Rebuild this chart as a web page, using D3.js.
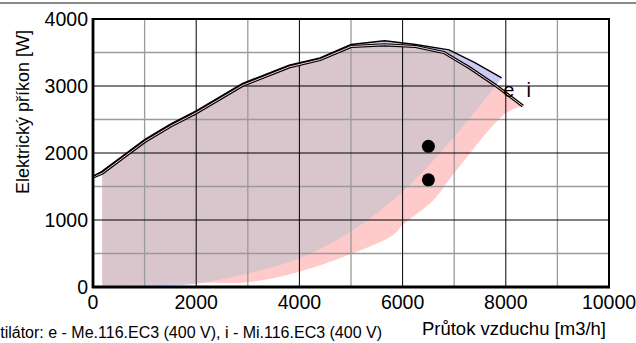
<!DOCTYPE html>
<html>
<head>
<meta charset="utf-8">
<script src="https://cdn.jsdelivr.net/npm/d3@7"></script>
<style>
  body { margin: 0; background: #fff; }
  svg { display: block; font-family: "Liberation Sans", Arial, sans-serif; }
</style>
</head>
<body>
<svg width="636" height="343"></svg>
<script>
// fan e (Me.116.EC3) - upper curve and lower boundary
const eUpperX = [0, 180, 650, 1000, 1500, 2000, 2900, 3800, 4400, 5000, 5650, 6250, 6900, 7400, 7920];
const eUpperY = [1650, 1730, 2000, 2200, 2430, 2630, 3040, 3310, 3420, 3620, 3675, 3620, 3540, 3350, 3120];
const eLowerX = [180, 1000, 2000, 3000, 4000, 5000, 6000, 7000, 7790, 7920];
const eLowerY = [0, 10, 50, 200, 428, 830, 1420, 2243, 2990, 3120];

// fan i (Mi.116.EC3)
const iUpperX = [0, 180, 650, 1000, 1500, 2000, 2900, 3800, 4400, 5000, 5650, 6250, 6800, 7300, 7800, 8330];
const iUpperY = [1640, 1700, 1970, 2170, 2400, 2600, 3010, 3285, 3395, 3590, 3615, 3590, 3500, 3270, 3010, 2700];
const iLowerX = [180, 1000, 2000, 3000, 4000, 5000, 5820, 6000, 6600, 7000, 8000, 8330];
const iLowerY = [15, 40, 65, 70, 228, 493, 776, 925, 1300, 1697, 2593, 2700];

// working points
const pointX = [6500, 6500];
const pointY = [2100, 1600];

const curveNames = ["e", "i"];
const labelX = [7950, 8400];
const labelY = [2830, 2830];

const xTicks = [0, 2000, 4000, 6000, 8000, 10000];
const yTicks = [0, 1000, 2000, 3000, 4000];

const svg = d3.select("svg");

const x = d3.scaleLinear([0, 10000], [93, 609]);
const y = d3.scaleLinear([0, 4000], [287, 19]);

function pts(xs, ys) { return xs.map((v, k) => [v, ys[k]]); }

const eUpper = pts(eUpperX, eUpperY), eLower = pts(eLowerX, eLowerY);
const iUpper = pts(iUpperX, iUpperY), iLower = pts(iLowerX, iLowerY);

const line = d3.line().x(d => x(d[0])).y(d => y(d[1]));
const lowLine = d3.line().x(d => x(d[0])).y(d => y(d[1])).curve(d3.curveCatmullRom);

// region = upper curve from x=180 onwards, then lower curve backwards
function region(up, low) {
  var top = line(up.filter(d => d[0] >= 180));
  var bot = lowLine(low.slice().reverse());
  return top + "L" + bot.slice(1) + "Z";
}

// top rule
svg.append("line").attr("x1", 0).attr("x2", 636).attr("y1", 3).attr("y2", 3)
  .attr("stroke", "#8a8a8a").attr("stroke-width", 2);

svg.append("clipPath").attr("id", "eclip")
  .append("path").attr("d", region(eUpper, eLower));

svg.append("path").attr("d", region(eUpper, eLower)).attr("fill", "#cccbf8");
svg.append("path").attr("d", region(iUpper, iLower)).attr("fill", "#ffcaca");
svg.append("path").attr("d", region(iUpper, iLower)).attr("fill", "#d9c5cc")
  .attr("clip-path", "url(#eclip)");

// grid
var g = svg.append("g");
d3.range(1000, 10000, 2000).forEach(v => {
  g.append("line").attr("x1", x(v)).attr("x2", x(v)).attr("y1", y(0)).attr("y2", y(4000))
    .attr("stroke", "#9a9a9a").attr("stroke-width", 1.3);
});
d3.range(500, 4000, 1000).forEach(v => {
  g.append("line").attr("x1", x(0)).attr("x2", x(10000)).attr("y1", y(v)).attr("y2", y(v))
    .attr("stroke", "#9a9a9a").attr("stroke-width", 1.3);
});
xTicks.slice(1, -1).forEach(v => {
  g.append("line").attr("x1", x(v)).attr("x2", x(v)).attr("y1", y(0)).attr("y2", y(4000))
    .attr("stroke", "#000").attr("stroke-width", 1);
});
yTicks.slice(1, -1).forEach(v => {
  g.append("line").attr("x1", x(0)).attr("x2", x(10000)).attr("y1", y(v)).attr("y2", y(v))
    .attr("stroke", "#000").attr("stroke-width", 1);
});

// curves
svg.append("path").attr("d", line(iUpper)).attr("fill", "none")
  .attr("stroke", "#000").attr("stroke-width", 3.2);
svg.append("path").attr("d", line(iUpper)).attr("fill", "none")
  .attr("stroke", "#f6c8c8").attr("stroke-width", 1);
svg.append("path").attr("d", line(eUpper)).attr("fill", "none")
  .attr("stroke", "#000").attr("stroke-width", 1.4);

svg.selectAll("circle.pt")
  .data(pointX)
  .enter()
  .append("circle")
  .attr("cx", (d, k) => x(d))
  .attr("cy", (d, k) => y(pointY[k]))
  .attr("r", 6.5)
  .attr("fill", "#000");

svg.selectAll("text.cname")
  .data(curveNames)
  .enter()
  .append("text")
  .attr("x", (d, k) => x(labelX[k]))
  .attr("y", (d, k) => y(labelY[k]))
  .attr("font-size", 20)
  .text(d => d);

// frame
svg.append("rect").attr("x", x(0)).attr("y", y(4000))
  .attr("width", x(10000) - x(0)).attr("height", y(0) - y(4000))
  .attr("fill", "none").attr("stroke", "#000").attr("stroke-width", 2);
svg.append("line").attr("x1", x(0)).attr("x2", x(0)).attr("y1", y(4000) - 1).attr("y2", y(0) + 1)
  .attr("stroke", "#000").attr("stroke-width", 2.8);
svg.append("line").attr("x1", x(0) - 1).attr("x2", x(10000) + 1).attr("y1", y(0)).attr("y2", y(0))
  .attr("stroke", "#000").attr("stroke-width", 2.8);

// tick labels
svg.selectAll("text.xt")
  .data(xTicks)
  .enter()
  .append("text")
  .attr("x", d => x(d))
  .attr("y", 309)
  .attr("text-anchor", "middle")
  .attr("font-size", 19.5)
  .text(d => d);

svg.selectAll("text.yt")
  .data(yTicks)
  .enter()
  .append("text")
  .attr("x", x(0) - 5)
  .attr("y", d => y(d))
  .attr("dy", "0.36em")
  .attr("text-anchor", "end")
  .attr("font-size", 19.5)
  .text(d => d);

// axis titles
svg.append("text")
  .attr("transform", "translate(29,112) rotate(-90)")
  .attr("text-anchor", "middle")
  .attr("font-size", 18)
  .text("Elektrický příkon [W]");

svg.append("text")
  .attr("x", 606).attr("y", 335)
  .attr("text-anchor", "end")
  .attr("font-size", 18.5)
  .text("Průtok vzduchu [m3/h]");

// the caption starts left of the picture, as in the original
svg.append("text")
  .attr("x", 382).attr("y", 338)
  .attr("text-anchor", "end")
  .attr("font-size", 16)
  .text("Ventilátor: e - Me.116.EC3 (400 V), i - Mi.116.EC3 (400 V)");
</script>
</body>
</html>
